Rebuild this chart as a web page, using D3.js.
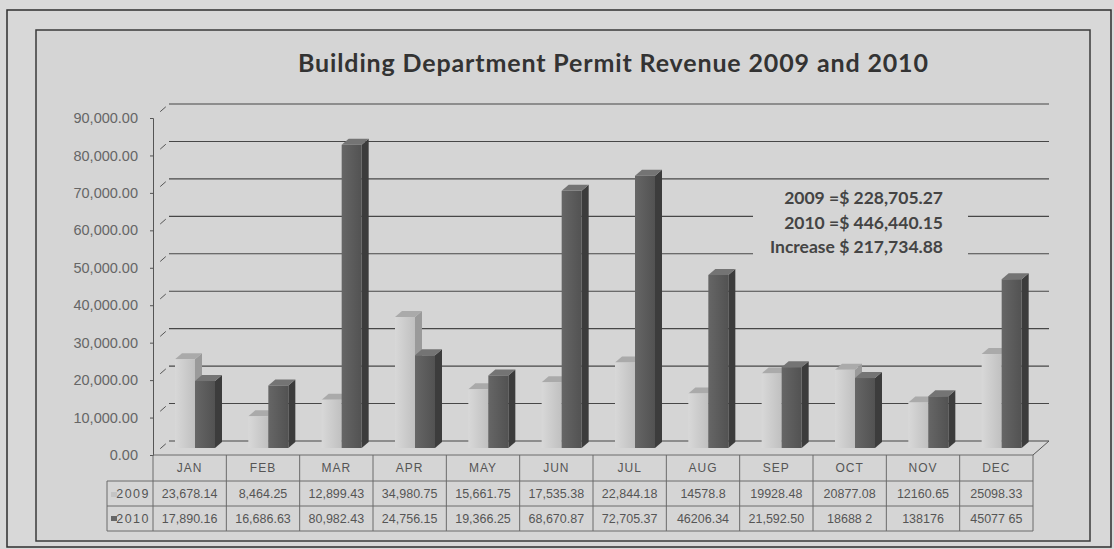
<!DOCTYPE html>
<html>
<head>
<meta charset="utf-8">
<script src="https://cdn.jsdelivr.net/npm/d3@7"></script>
<style>
  body { margin: 0; background: #d9d9d9; }
  svg { display: block; }
</style>
</head>
<body>
<div id="chart"></div>
<script>
// data
var months = ["JAN", "FEB", "MAR", "APR", "MAY", "JUN", "JUL", "AUG", "SEP", "OCT", "NOV", "DEC"];
var labels2009 = ["23,678.14", "8,464.25", "12,899.43", "34,980.75", "15,661.75", "17,535.38",
                  "22,844.18", "14578.8", "19928.48", "20877.08", "12160.65", "25098.33"];
var rev2009 = labels2009.map(function(s) { return +s.replace(/,/g, ""); });
var rev2010 = [17890.16, 16686.63, 80982.43, 24756.15, 19366.25, 68670.87,
               72705.37, 46206.34, 21592.50, 18688.2, 13817.6, 45077.65];
// the 2010 row as printed in the table (some decimal points are lost in the print)
var labels2010 = ["17,890.16", "16,686.63", "80,982.43", "24,756.15", "19,366.25", "68,670.87",
                  "72,705.37", "46206.34", "21,592.50", "18688 2", "138176", "45077 65"];
var yTicks = [0, 10000, 20000, 30000, 40000, 50000, 60000, 70000, 80000, 90000];
var notes = ["2009 =$ 228,705.27", "2010 =$ 446,440.15", "Increase $ 217,734.88"];

var W = 1114, H = 549;
var svg = d3.select("#chart").append("svg")
    .attr("width", W)
    .attr("height", H);

svg.append("rect").attr("width", W).attr("height", H).attr("fill", "#d9d9d9");

// frames
svg.append("rect")
    .attr("x", 7).attr("y", 10).attr("width", 1104).attr("height", 537)
    .attr("fill", "#d8d8d8").attr("stroke", "#2e2e2e").attr("stroke-width", 1.5);
svg.append("rect")
    .attr("x", 36).attr("y", 30).attr("width", 1054).attr("height", 511)
    .attr("fill", "#d5d5d5").attr("stroke", "#3a3a3a").attr("stroke-width", 1.5);

// scales (front plane), back wall is offset by depth
var depth = {dx: 16, dy: -14};
var x = d3.scaleBand().domain(months).range([153, 1033]);
var y = d3.scaleLinear().domain([0, 90000]).range([455, 118]);

// title
svg.append("text")
    .attr("x", 298).attr("y", 72)
    .attr("font-family", "Lato, 'Open Sans', sans-serif")
    .attr("font-weight", "bold")
    .attr("font-size", 25)
    .attr("textLength", 630)
    .attr("lengthAdjust", "spacing")
    .attr("fill", "#333")
    .text("Building Department Permit Revenue 2009 and 2010");

// back wall gridlines
var grid = svg.append("g");
grid.selectAll("line.grid")
  .data(yTicks)
  .enter().append("line")
    .attr("class", "grid")
    .attr("x1", 153 + depth.dx).attr("x2", 1033 + depth.dx)
    .attr("y1", function(d) { return y(d) + depth.dy; })
    .attr("y2", function(d) { return y(d) + depth.dy; })
    .attr("stroke", "#474747").attr("stroke-width", 1.1);

// short diagonals on the left wall
grid.selectAll("line.diag")
  .data(yTicks)
  .enter().append("line")
    .attr("class", "diag")
    .attr("x1", 153 + depth.dx * 0.45).attr("x2", 153 + depth.dx * 0.8)
    .attr("y1", function(d) { return y(d) + depth.dy * 0.45; })
    .attr("y2", function(d) { return y(d) + depth.dy * 0.8; })
    .attr("stroke", "#555").attr("stroke-width", 1);

// right floor edge
grid.append("line")
    .attr("x1", 1033).attr("y1", y(0))
    .attr("x2", 1033 + depth.dx).attr("y2", y(0) + depth.dy)
    .attr("stroke", "#555").attr("stroke-width", 1);

// front y axis
var yAxis = svg.append("g")
    .attr("transform", "translate(153,0)")
    .call(d3.axisLeft(y).tickValues(yTicks).tickSize(3).tickFormat(d3.format(",.2f")));
yAxis.select(".domain").attr("stroke", "#555");
yAxis.selectAll(".tick line").attr("stroke", "#555");
yAxis.selectAll(".tick text")
    .attr("x", -15)
    .attr("font-family", "'Liberation Sans', Arial, sans-serif")
    .attr("font-size", 14.5)
    .attr("fill", "#666");

// annotation box hides part of the gridlines
svg.append("rect")
    .attr("x", 753).attr("y", 186).attr("width", 215).attr("height", 76)
    .attr("fill", "#d5d5d5");
svg.selectAll("text.note")
  .data(notes)
  .enter().append("text")
    .attr("class", "note")
    .attr("x", 943)
    .attr("y", function(d, i) { return 204 + i * 24.5; })
    .attr("text-anchor", "end")
    .attr("font-family", "Lato, 'Open Sans', sans-serif")
    .attr("font-weight", "bold")
    .attr("font-size", 17.5)
    .attr("fill", "#444")
    .text(function(d) { return d; });

// 3D bars, sitting half way into the floor
var bar = {w: 20, dx: 7, dy: -6, lift: 7};
function drawBar(g, x0, v, cols) {
  var yb = y(0) - bar.lift, yt = y(v) - bar.lift;
  var x1 = x0 + bar.w;
  g.append("path")
    .attr("d", "M" + x1 + "," + yt + "L" + (x1 + bar.dx) + "," + (yt + bar.dy) +
               "L" + (x1 + bar.dx) + "," + (yb + bar.dy) + "L" + x1 + "," + yb + "Z")
    .attr("fill", cols.side);
  g.append("path")
    .attr("d", "M" + x0 + "," + yt + "L" + (x0 + bar.dx) + "," + (yt + bar.dy) +
               "L" + (x1 + bar.dx) + "," + (yt + bar.dy) + "L" + x1 + "," + yt + "Z")
    .attr("fill", cols.top);
  g.append("rect")
    .attr("x", x0).attr("y", yt)
    .attr("width", bar.w).attr("height", yb - yt)
    .attr("fill", cols.front);
}

var defs = svg.append("defs");
var gl = defs.append("linearGradient").attr("id", "light");
gl.append("stop").attr("offset", "0%").attr("stop-color", "#d8d8d8");
gl.append("stop").attr("offset", "100%").attr("stop-color", "#c0c0c0");
var gd = defs.append("linearGradient").attr("id", "dark");
gd.append("stop").attr("offset", "0%").attr("stop-color", "#666");
gd.append("stop").attr("offset", "100%").attr("stop-color", "#525252");

var bars = svg.append("g");
months.forEach(function(m, i) {
  var g = bars.append("g");
  drawBar(g, x(m) + 22, rev2009[i], {front: "url(#light)", top: "#aaa", side: "#9a9a9a"});
  drawBar(g, x(m) + 42, rev2010[i], {front: "url(#dark)", top: "#747474", side: "#3c3c3c"});
});

// data table
var rowTop = [455, 481, 506, 531];
var table = svg.append("g")
    .attr("font-family", "'Liberation Sans', Arial, sans-serif")
    .attr("fill", "#555");
var lineCol = "#6a6a6a";
table.append("line").attr("x1", 153).attr("x2", 1033).attr("y1", rowTop[0]).attr("y2", rowTop[0])
    .attr("stroke", lineCol);
[1, 2, 3].forEach(function(r) {
  table.append("line").attr("x1", 107).attr("x2", 1033)
      .attr("y1", rowTop[r]).attr("y2", rowTop[r]).attr("stroke", lineCol);
});
table.append("line").attr("x1", 107).attr("x2", 107).attr("y1", rowTop[1]).attr("y2", rowTop[3])
    .attr("stroke", lineCol);
months.concat(["_end"]).forEach(function(m, i) {
  var xx = i < months.length ? x(m) : x.range()[1];
  table.append("line").attr("x1", xx).attr("x2", xx)
      .attr("y1", rowTop[0]).attr("y2", rowTop[3]).attr("stroke", lineCol);
});

table.selectAll("text.month")
  .data(months)
  .enter().append("text")
    .attr("class", "month")
    .attr("x", function(d) { return x(d) + x.bandwidth() / 2; })
    .attr("y", 472)
    .attr("text-anchor", "middle")
    .attr("font-size", 12)
    .attr("letter-spacing", 1)
    .text(function(d) { return d; });

function valueRow(lbls, yy) {
  table.append("g").selectAll("text")
    .data(lbls)
    .enter().append("text")
      .attr("x", function(d, i) { return x(months[i]) + x.bandwidth() / 2; })
      .attr("y", yy)
      .attr("text-anchor", "middle")
      .attr("font-size", 12.5)
      .text(function(d) { return d; });
}
valueRow(labels2009, 498);
valueRow(labels2010, 523);

table.append("text").attr("x", 150).attr("y", 498).attr("text-anchor", "end")
    .attr("font-size", 12.5).attr("letter-spacing", 1.5).text("2009");
table.append("text").attr("x", 150).attr("y", 523).attr("text-anchor", "end")
    .attr("font-size", 12.5).attr("letter-spacing", 1.5).text("2010");
table.append("rect").attr("x", 111).attr("y", 492).attr("width", 6).attr("height", 5).attr("fill", "#c4c4c4");
table.append("rect").attr("x", 111).attr("y", 516).attr("width", 6).attr("height", 5).attr("fill", "#666");
</script>
</body>
</html>
